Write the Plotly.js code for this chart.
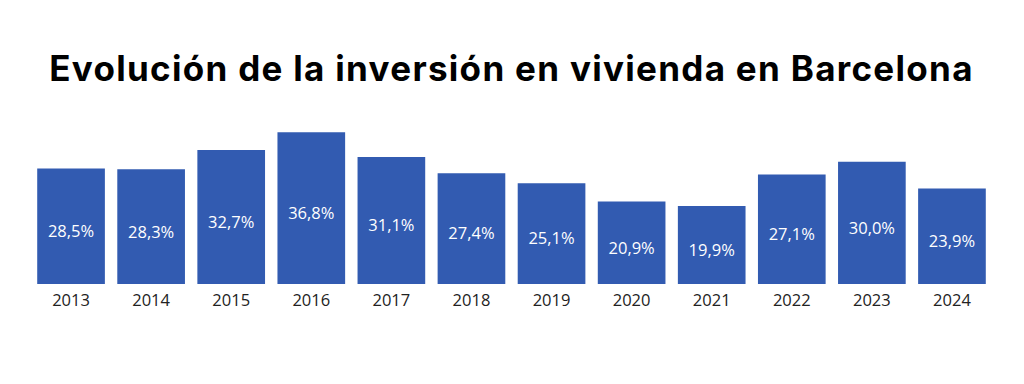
<!DOCTYPE html>
<html>
<head>
<meta charset="utf-8">
<script src="https://cdn.plot.ly/plotly-3.0.1.min.js"></script>
<style>html,body{margin:0;padding:0;background:#fff;}#chart{width:1024px;height:384px;}
.gtitle{letter-spacing:1.3px;}</style>
</head>
<body>
<div id="chart"></div>
<script>
const years = ["2013","2014","2015","2016","2017","2018","2019","2020","2021","2022","2023","2024"];
const values = [28.5, 28.3, 32.7, 36.8, 31.1, 27.4, 25.1, 20.9, 19.9, 27.1, 30.0, 23.9];
const labels = values.map(v => v.toFixed(1).replace('.', ',') + '%');

const trace = {
  type: 'bar',
  x: years,
  y: values,
  text: labels,
  textposition: 'inside',
  insidetextanchor: 'middle',
  textangle: 0,
  textfont: {family: 'Open Sans', size: 16.5, color: '#ffffff'},
  marker: {color: '#325bb1'},
  hoverinfo: 'none',
  cliponaxis: true
};

const layout = {
  width: 1024, height: 384,
  margin: {l: 31, r: 32, t: 120, b: 100},
  paper_bgcolor: '#ffffff',
  plot_bgcolor: '#ffffff',
  bargap: 0.155,
  showlegend: false,
  title: {
    text: '<b>Evolución de la inversión en vivienda en Barcelona</b>',
    font: {family: 'Inter', size: 35, color: '#000000'},
    x: 0.5, xanchor: 'center', xref: 'paper',
    y: 1 - 69 / 384, yanchor: 'middle', yref: 'container'
  },
  xaxis: {
    type: 'category',
    showgrid: false, zeroline: false, showline: false,
    ticks: 'outside', ticklen: 1, tickcolor: 'rgba(0,0,0,0)',
    tickfont: {family: 'Open Sans', size: 16.5, color: '#222222'},
    fixedrange: true
  },
  yaxis: {
    range: [2.0, 39.6],
    visible: false,
    showgrid: false, zeroline: false,
    fixedrange: true
  }
};

Plotly.newPlot('chart', [trace], layout, {displayModeBar: false, staticPlot: true});
</script>
</body>
</html>
